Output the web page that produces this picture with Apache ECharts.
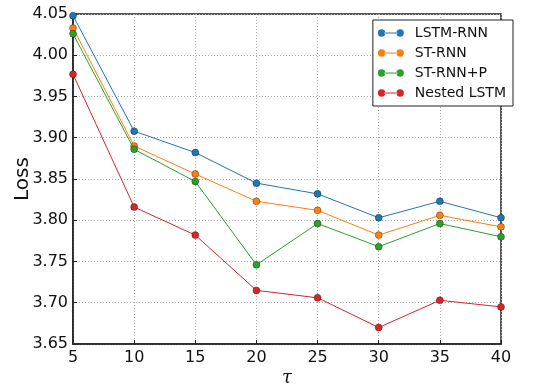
<!DOCTYPE html>
<html><head><meta charset="utf-8">
<script src="https://cdn.jsdelivr.net/npm/echarts@6/dist/echarts.min.js"></script>
<style>html,body{margin:0;padding:0;background:#fff}#c{width:541px;height:387px}</style>
</head><body><div id="c"></div>
<script>
const tau = [5, 10, 15, 20, 25, 30, 35, 40];
const seriesNames = ['LSTM-RNN', 'ST-RNN', 'ST-RNN+P', 'Nested LSTM'];
const lstmRnn = [4.048, 3.908, 3.882, 3.845, 3.832, 3.803, 3.823, 3.803];
const stRnn = [4.033, 3.890, 3.856, 3.823, 3.812, 3.782, 3.806, 3.792];
const stRnnP = [4.026, 3.886, 3.847, 3.746, 3.796, 3.768, 3.796, 3.780];
const nestedLstm = [3.977, 3.816, 3.782, 3.715, 3.706, 3.670, 3.703, 3.695];
const colors = ['#1f77b4', '#ff7f0e', '#2ca02c', '#d62728'];
const allValues = [lstmRnn, stRnn, stRnnP, nestedLstm];

const icon = 'path://M1,5 A4,4 0 1,0 9,5 A4,4 0 1,0 1,5 Z M21,5 A4,4 0 1,0 29,5 A4,4 0 1,0 21,5 Z M8,4.4 L22,4.4 L22,5.6 L8,5.6 Z';

const chart = echarts.init(document.getElementById('c'), null, {renderer: 'canvas'});
const font = 'DejaVu Sans';
chart.setOption({
  animation: false,
  backgroundColor: '#fff',
  grid: {left: 73, right: 40, top: 14, bottom: 43, show: true, borderColor: '#222', borderWidth: 1.5, backgroundColor: 'transparent', outerBoundsMode: 'none', containLabel: false},
  legend: {
    right: 28, top: 20, orient: 'vertical',
    data: seriesNames.map((n, i) => ({name: n, icon: icon, itemStyle: {color: colors[i], borderWidth: 0}})),
    itemWidth: 26, itemHeight: 9, itemGap: 6,
    backgroundColor: '#fff', borderColor: '#222', borderWidth: 1, padding: [6, 7, 6, 5],
    textStyle: {fontFamily: font, fontSize: 14, color: '#111', padding: [0, 0, 0, 6]}
  },
  xAxis: {
    type: 'value', min: 5, max: 40, interval: 5,
    name: 'τ', nameLocation: 'middle', nameGap: 25, nameMoveOverlap: false,
    nameTextStyle: {fontFamily: 'DejaVu Serif', fontStyle: 'italic', fontSize: 18, color: '#111'},
    axisLine: {show: true, lineStyle: {color: '#222', width: 1.5}},
    axisTick: {show: true, inside: true, length: 4, lineStyle: {color: '#222'}},
    axisLabel: {fontFamily: font, fontSize: 16, color: '#111', margin: 6},
    splitLine: {show: true, lineStyle: {color: '#aaa', type: [1, 2], width: 1}}
  },
  yAxis: {
    type: 'value', min: 3.65, max: 4.05, interval: 0.05,
    name: 'Loss', nameLocation: 'middle', nameGap: 40, nameMoveOverlap: false,
    nameTextStyle: {fontFamily: font, fontSize: 20, color: '#111'},
    axisLine: {show: true, lineStyle: {color: '#222', width: 1.5}},
    axisTick: {show: true, inside: true, length: 4, lineStyle: {color: '#222'}},
    axisLabel: {fontFamily: font, fontSize: 16, color: '#111', margin: 5, formatter: v => v.toFixed(2)},
    splitLine: {show: true, lineStyle: {color: '#aaa', type: [1, 2], width: 1}}
  },
  series: seriesNames.map((n, i) => ({
    name: n, type: 'line',
    data: tau.map((t, k) => [t, allValues[i][k]]),
    symbol: 'circle', symbolSize: 7,
    lineStyle: {color: colors[i], width: 1},
    itemStyle: {color: colors[i], borderColor: 'rgba(0,0,0,0.55)', borderWidth: 0.6},
    clip: false,
    z: 3 + i
  }))
});
</script></body></html>
